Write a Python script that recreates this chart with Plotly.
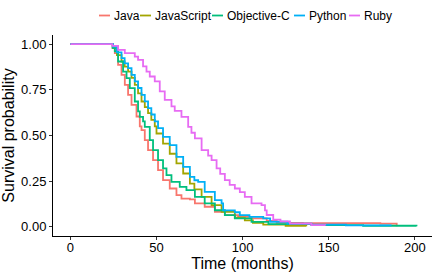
import plotly.graph_objects as go

# ---- data ----
languages = ["Java", "JavaScript", "Objective-C", "Python", "Ruby"]
colors = ["#F8766D", "#A3A500", "#00BF7D", "#00B0F6", "#E76BF3"]

java_t = [0, 24.5, 25.8, 27.7, 29.7, 31.6, 33.5, 35.5, 38.4, 40.3, 41.3, 43.2, 45.1, 48, 50.9,
          53.8, 57.7, 61.6, 64.5, 69.4, 72.3, 78, 83.9, 89.7, 97.4, 105.2, 114, 119.8, 135, 180, 189.5]
java_s = [1, 0.98, 0.951, 0.887, 0.832, 0.777, 0.722, 0.668, 0.604, 0.55, 0.529, 0.475, 0.42, 0.365, 0.31,
          0.256, 0.21, 0.174, 0.155, 0.15, 0.128, 0.11, 0.082, 0.064, 0.055, 0.046, 0.033, 0.022, 0.02, 0.018, 0.004]

js_t = [0, 24.8, 27, 29.7, 31.5, 33.5, 35.5, 37.4, 39.3, 41.3, 43.2, 45.1, 47, 49, 50, 53.8, 57.7,
        61.6, 65.5, 69.4, 72, 76.2, 82, 87.8, 95.5, 101.3, 106, 112, 125, 137]
js_s = [1, 0.978, 0.94, 0.905, 0.877, 0.85, 0.815, 0.777, 0.73, 0.686, 0.655, 0.622, 0.585, 0.55, 0.511, 0.456, 0.40,
        0.347, 0.292, 0.237, 0.205, 0.164, 0.119, 0.082, 0.05, 0.035, 0.022, 0.012, 0.006, 0.003]

objc_t = [0, 24.5, 25.8, 27.7, 30.6, 32.6, 34.5, 37.4, 39.3, 40.3, 42.2, 43.2, 46.1, 48, 50.9, 53.8,
          55.8, 58.7, 63.5, 67.4, 72.3, 78, 83.9, 89.7, 95.5, 105.2, 115, 140, 170, 201]
objc_s = [1, 0.98, 0.96, 0.905, 0.85, 0.814, 0.759, 0.686, 0.632, 0.602, 0.577, 0.547, 0.475, 0.42, 0.365, 0.32,
          0.283, 0.246, 0.219, 0.201, 0.164, 0.128, 0.091, 0.064, 0.046, 0.027, 0.015, 0.009, 0.006, 0.004]

py_t = [0, 24.8, 27, 29.7, 31.5, 33.5, 35.5, 37.4, 39.3, 41.3, 43.2, 45.1, 47, 49, 50.9, 53.8, 57.7,
        61.6, 65.5, 69.4, 72, 74.2, 78, 83.9, 87.8, 88.7, 95.5, 98.4, 104, 112, 116, 126, 140, 160, 186]
py_s = [1, 0.987, 0.955, 0.923, 0.895, 0.869, 0.832, 0.796, 0.76, 0.722, 0.687, 0.65, 0.615, 0.577, 0.54, 0.493, 0.447,
        0.383, 0.328, 0.274, 0.255, 0.246, 0.192, 0.146, 0.128, 0.09, 0.08, 0.064, 0.055, 0.046, 0.028, 0.018, 0.012, 0.008, 0.004]

ruby_t = [0, 24.4, 27.7, 31.6, 37.4, 39.3, 42.2, 44.2, 46.1, 49, 51.9, 54.8, 58.7, 60.6, 64.5, 68.4, 70.3,
          72.3, 76.2, 80, 82, 84.9, 87, 89.7, 92.5, 95.5, 98.4, 101.3, 105.2, 111, 113, 114, 117.8, 122, 127.5, 140, 148]
ruby_s = [1, 0.99, 0.969, 0.951, 0.932, 0.914, 0.878, 0.85, 0.823, 0.796, 0.741, 0.695, 0.659, 0.635, 0.602, 0.547, 0.515,
          0.484, 0.42, 0.39, 0.365, 0.32, 0.29, 0.256, 0.23, 0.21, 0.19, 0.164, 0.128, 0.119, 0.09, 0.065, 0.04, 0.03, 0.018, 0.01, 0.007]

x_ticks = [0, 50, 100, 150, 200]
y_ticks = [0, 0.25, 0.5, 0.75, 1.0]
y_tick_labels = ["0.00", "0.25", "0.50", "0.75", "1.00"]

series = [(java_t, java_s), (js_t, js_s), (objc_t, objc_s), (py_t, py_s), (ruby_t, ruby_s)]

FONT = "Liberation Sans, Arial, Helvetica, sans-serif"
W, H = 436, 273
ML, MR, MT, MB = 53, 4, 35, 37
PW, PH = W - ML - MR, H - MT - MB

fig = go.Figure()
for name, col, (t, s) in zip(languages, colors, series):
    fig.add_trace(go.Scatter(
        x=t, y=s, name=name, mode="lines",
        line=dict(color=col, width=1.8, shape="hv"),
    ))

# compact legend row above the panel (swatch + label per series)
legend_px = [99, 140, 212, 294, 349]  # left pixel of each swatch
leg_y = 1 + (MT - 15.5) / PH
for name, col, px in zip(languages, colors, legend_px):
    x0 = (px - ML) / PW
    x1 = (px + 11 - ML) / PW
    fig.add_shape(type="line", xref="paper", yref="paper", x0=x0, x1=x1, y0=leg_y, y1=leg_y,
                  line=dict(color=col, width=1.8))
    fig.add_annotation(xref="paper", yref="paper", x=(px + 13 - ML) / PW, y=leg_y,
                       xanchor="left", yanchor="middle", text=name, showarrow=False,
                       font=dict(size=12, family=FONT, color="black"))

fig.update_layout(
    width=W, height=H,
    margin=dict(l=ML, r=MR, t=MT, b=MB, autoexpand=False),
    paper_bgcolor="white", plot_bgcolor="white",
    font=dict(family=FONT, color="black"),
    showlegend=False,
)
fig.update_xaxes(
    range=[-10.1, 210], tickvals=x_ticks, showgrid=False, zeroline=False,
    showline=True, linecolor="black", linewidth=1,
    ticks="outside", ticklen=3, tickcolor="#333333",
    ticklabelstandoff=-4,
    tickfont=dict(size=13, color="black"),
    title=dict(text="Time (months)", font=dict(size=16, color="black"), standoff=2),
)
fig.update_yaxes(
    range=[-0.05, 1.05], tickvals=y_ticks, ticktext=y_tick_labels, showgrid=False, zeroline=False,
    showline=True, linecolor="black", linewidth=1,
    ticks="outside", ticklen=3, tickcolor="#333333",
    tickfont=dict(size=13, color="black"),
    title=dict(text="Survival probability", font=dict(size=16, color="black"), standoff=5),
)

fig.write_html("out.html", config={"displayModeBar": False},
               post_script="document.body.style.margin='0px';document.body.style.overflow='hidden';")
